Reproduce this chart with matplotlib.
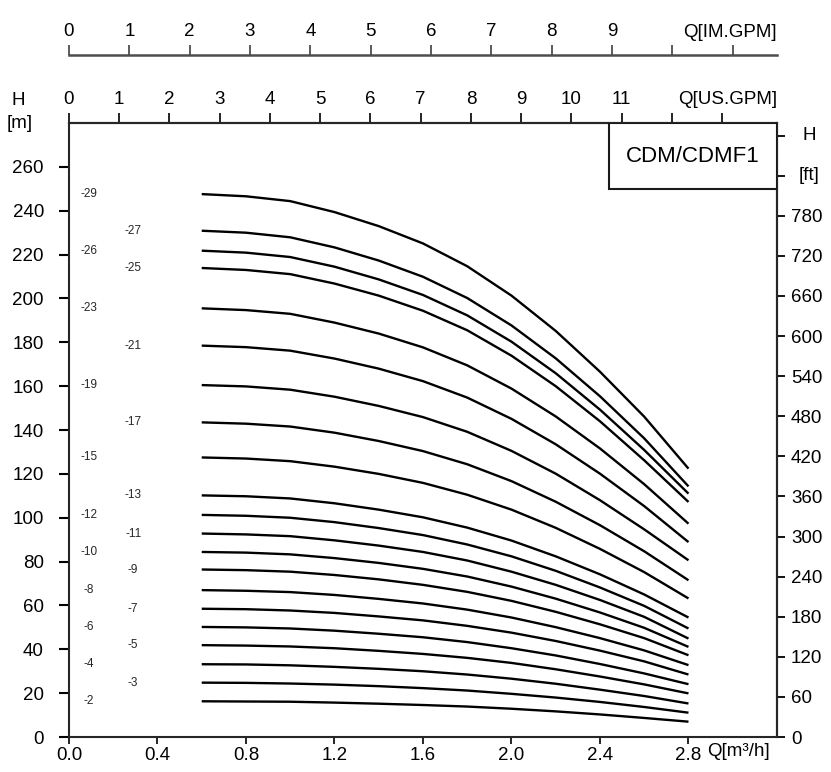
import matplotlib
matplotlib.use('Agg')
from matplotlib import pyplot as plt
from matplotlib.patches import Rectangle

plt.rcParams['font.family'] = ['Liberation Sans', 'DejaVu Sans']

# flow, m3/h
Q = [0.6, 0.8, 1.0, 1.2, 1.4, 1.6, 1.8, 2.0, 2.2, 2.4, 2.6, 2.8]

# head (m) for each pump size (number of stages)
stages = [29, 27, 26, 25, 23, 21, 19, 17, 15, 13, 12, 11, 10, 9, 8, 7, 6, 5, 4, 3, 2]
H29 = [247.6, 246.6, 244.4, 239.4, 233.0, 225.1, 214.7, 201.3, 185.2, 166.6, 146.1, 122.4]
H27 = [230.9, 230.0, 227.9, 223.3, 217.3, 209.9, 200.2, 187.7, 172.7, 155.4, 136.2, 114.3]
H26 = [221.8, 220.9, 218.9, 214.5, 208.7, 201.6, 192.3, 180.3, 165.9, 149.3, 130.9, 111.0]
H25 = [213.9, 213.0, 211.1, 206.8, 201.3, 194.4, 185.5, 173.9, 160.0, 144.0, 126.2, 107.2]
H23 = [195.5, 194.7, 193.0, 189.0, 184.0, 177.7, 169.5, 158.9, 146.2, 131.6, 115.3, 97.3]
H21 = [178.5, 177.8, 176.2, 172.6, 168.0, 162.3, 154.8, 145.1, 133.5, 120.1, 105.3, 88.9]
H19 = [160.5, 159.9, 158.4, 155.2, 151.0, 145.9, 139.2, 130.5, 120.1, 108.0, 94.7, 80.6]
H17 = [143.5, 142.9, 141.6, 138.8, 135.0, 130.4, 124.4, 116.7, 107.3, 96.6, 84.7, 71.5]
H15 = [127.5, 127.0, 125.8, 123.3, 120.0, 115.9, 110.5, 103.7, 95.4, 85.8, 75.2, 63.2]
H13 = [110.2, 109.8, 108.8, 106.6, 103.7, 100.2, 95.5, 89.6, 82.4, 74.2, 65.0, 54.5]
H12 = [101.3, 100.9, 100.0, 98.0, 95.3, 92.1, 87.8, 82.4, 75.8, 68.2, 59.8, 49.5]
H11 = [92.8, 92.4, 91.6, 89.7, 87.3, 84.4, 80.5, 75.4, 69.4, 62.5, 54.8, 44.9]
H10 = [84.4, 84.1, 83.3, 81.6, 79.4, 76.7, 73.2, 68.6, 63.1, 56.8, 49.8, 41.1]
H9 = [76.4, 76.1, 75.4, 73.9, 71.9, 69.4, 66.2, 62.1, 57.1, 51.4, 45.1, 37.3]
H8 = [67.0, 66.7, 66.1, 64.8, 63.0, 60.9, 58.1, 54.5, 50.1, 45.1, 39.5, 32.8]
H7 = [58.5, 58.3, 57.7, 56.6, 55.0, 53.2, 50.7, 47.6, 43.8, 39.4, 34.5, 28.5]
H6 = [50.2, 50.0, 49.5, 48.5, 47.1, 45.5, 43.3, 40.5, 37.2, 33.3, 29.0, 24.1]
H5 = [41.9, 41.7, 41.3, 40.5, 39.3, 37.9, 36.1, 33.8, 30.9, 27.6, 24.0, 19.9]
H4 = [33.2, 33.1, 32.7, 32.0, 31.1, 30.0, 28.5, 26.6, 24.3, 21.6, 18.7, 15.3]
H3 = [24.8, 24.7, 24.4, 23.9, 23.2, 22.3, 21.2, 19.7, 18.0, 16.0, 13.7, 11.1]
H2 = [16.3, 16.2, 16.1, 15.7, 15.2, 14.6, 13.9, 12.9, 11.7, 10.3, 8.7, 7.0]
heads = [H29, H27, H26, H25, H23, H21, H19, H17, H15, H13, H12,
         H11, H10, H9, H8, H7, H6, H5, H4, H3, H2]

x_ticks = [0.0, 0.4, 0.8, 1.2, 1.6, 2.0, 2.4, 2.8]
y_ticks = list(range(0, 261, 20))
ft_ticks = list(range(0, 901, 60))
us_ticks = list(range(0, 14))
im_ticks = list(range(0, 12))

# unit conversions
US = 0.2271247   # m3/h per US gpm
IM = 0.2727655   # m3/h per imp. gpm
FT = 3.28084

fig = plt.figure(figsize=(8.31, 7.72), dpi=100)
ax = fig.add_axes([0.083, 0.0453, 0.852, 0.7953])

for s, h in zip(stages, heads):
    ax.plot(Q, h, color='black', lw=1.7, solid_capstyle='butt', solid_joinstyle='round')

# stage labels, two staggered columns
for i, (s, h) in enumerate(zip(stages, heads)):
    xl = 0.09 if i % 2 == 0 else 0.29
    ax.text(xl, h[0], '-%d' % s, fontsize=8.5, ha='center', va='center', color='0.15')

ax.set_xlim(0, 3.2)
ax.set_ylim(0, 280)
ax.set_xticks(x_ticks)
ax.set_xticklabels(['%.1f' % v for v in x_ticks])
ax.set_yticks(y_ticks)
ax.tick_params(axis='x', direction='out', length=5, width=1.2, labelsize=13.5, pad=2)
ax.tick_params(axis='y', direction='out', length=7, width=1.5, labelsize=13.5, pad=11)
for sp in ax.spines.values():
    sp.set_linewidth(1.5)
    sp.set_color('0.15')

# US gallons on top spine
us = ax.secondary_xaxis('top', functions=(lambda q: q / US, lambda g: g * US))
us.set_xticks(us_ticks)
us.set_xticklabels([str(v) for v in us_ticks[:12]] + ['', ''])
us.tick_params(direction='out', length=7, width=1.2, labelsize=13.5, pad=4)
us.spines['top'].set_linewidth(1.5)
ax.text(1.0, 1.038, 'Q[US.GPM]', transform=ax.transAxes, ha='right', va='center', fontsize=13.5)

# imperial gallons, separate scale above
im = ax.secondary_xaxis(1.111, functions=(lambda q: q / IM, lambda g: g * IM))
im.set_xticks(im_ticks)
im.set_xticklabels([str(v) for v in im_ticks[:10]] + ['', ''])
im.tick_params(direction='out', length=7, width=1.2, labelsize=13.5, pad=4, color='0.25')
im.spines['top'].set_linewidth(1.8)
im.spines['top'].set_color('0.3')
ax.text(1.0, 1.148, 'Q[IM.GPM]', transform=ax.transAxes, ha='right', va='center', fontsize=13.5)

# feet on the right
ft = ax.secondary_yaxis('right', functions=(lambda h: h * FT, lambda f: f / FT))
ft.set_yticks(ft_ticks)
ft.set_yticklabels([str(v) for v in ft_ticks[:14]] + ['', ''])
ft.tick_params(direction='out', length=6, width=1.3, labelsize=13.5, pad=4)
ft.spines['right'].set_linewidth(1.5)
ax.text(1.045, 900 / FT, 'H', transform=ax.get_yaxis_transform(), ha='center', va='center', fontsize=13.5)
ax.text(1.045, 840 / FT, '[ft]', transform=ax.get_yaxis_transform(), ha='center', va='center', fontsize=13.5)

fig.text(0.022, 0.870, 'H', ha='center', va='center', fontsize=13.5)
fig.text(0.024, 0.840, '[m]', ha='center', va='center', fontsize=13.5)
ax.text(0.945, -0.024, 'Q[m³/h]', transform=ax.transAxes, ha='center', va='center', fontsize=13.5)

# model box
ax.add_patch(Rectangle((0.763, 0.8925), 0.237, 0.1075, transform=ax.transAxes,
                       facecolor='white', edgecolor='0.1', lw=1.5, zorder=5))
ax.text(0.8815, 0.946, 'CDM/CDMF1', transform=ax.transAxes, ha='center', va='center',
        fontsize=16, zorder=6)

fig.savefig('out.png', dpi=100)
